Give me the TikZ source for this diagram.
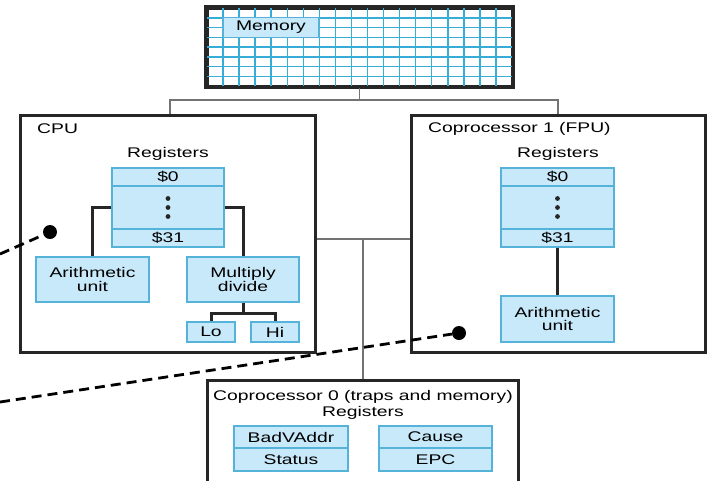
\documentclass[tikz,border=0pt]{standalone}
\usepackage{fontspec}
\setmainfont{Liberation Sans}[FakeStretch=1.38]
\begin{document}
\begin{tikzpicture}[x=1pt,y=-1pt,
  font=\fontsize{14}{13.5}\selectfont,
  outerbox/.style={draw=black!85,line width=3pt,inner sep=0pt},
  bluebox/.style={draw=boxedge,fill=boxfill,line width=1.2pt,inner sep=0pt,align=center},
  conn/.style={draw=black!85,line width=3pt},
  bus/.style={draw=black!55,line width=1.6pt},
  gridline/.style={draw=gridcol,line width=1.5pt},
  dashline/.style={draw=black,line width=2.8pt,dash pattern=on 10pt off 6pt},
  dotmark/.style={circle,fill=black,inner sep=0pt,minimum size=14pt},
  lbl/.style={inner sep=0pt}
]
\definecolor{boxfill}{RGB}{200,233,249}
\definecolor{boxedge}{RGB}{85,178,216}
\definecolor{gridcol}{RGB}{55,172,212}
\useasboundingbox (0,0) rectangle (707,480);
\fill[white] (0,0) rectangle (707,480);

% big boxes
\node[outerbox,minimum width=305pt,minimum height=78pt] (mem) at (359.5,47) {};
\node[outerbox,minimum width=295pt,minimum height=237pt] (cpu) at (167.5,233.5) {};
\node[outerbox,minimum width=294pt,minimum height=237pt] (fpu) at (558,233.5) {};
\node[outerbox,minimum width=311pt,minimum height=120pt] (cp0) at (362.5,440) {};

% memory grid
\foreach \i in {1,...,18} \draw[gridline] (207+\i*16.05,8) -- (207+\i*16.05,86);
\foreach \j in {1,...,7} \draw[gridline] (207,8+\j*9.75) -- (512,8+\j*9.75);
\node[bluebox,minimum width=96pt,minimum height=19.5pt] (memlbl) at (271,27.5) {Memory};
\draw[draw=black!85,line width=3pt] (mem.north west) rectangle (mem.south east);

% CPU
\node[lbl,anchor=west] (cputitle) at (37,129) {CPU};
\node[lbl] (cpuregt) at (168,154) {Registers};
\node[bluebox,minimum width=112pt,minimum height=18pt] (cpu0) at (168,177) {\$0};
\node[bluebox,minimum width=112pt,minimum height=43pt] (cpudots) at (168,207.5) {};
\node[bluebox,minimum width=112pt,minimum height=18pt] (cpu31) at (168,238) {\$31};
\foreach \k in {-9,0,9} \fill[black!85] ([yshift=\k]cpudots.center) circle (2.4pt);
\node[bluebox,minimum width=113pt,minimum height=45pt] (cpuarith) at (92.5,279.5) {Arithmetic\\unit};
\node[bluebox,minimum width=112pt,minimum height=45pt] (mul) at (243,279.5) {Multiply\\divide};
\node[bluebox,minimum width=48pt,minimum height=20pt] (lo) at (211,332) {Lo};
\node[bluebox,minimum width=48pt,minimum height=20pt] (hi) at (275,332) {Hi};
\coordinate (lohi) at (243,313);
\draw[conn] (cpudots.west) -| (cpuarith.north);
\draw[conn] (cpudots.east) -| (mul.north);
\draw[conn] (mul.south) -- (lohi);
\draw[conn] (lo.north) |- (lohi) -| (hi.north);

% FPU
\node[lbl,anchor=west] (fputitle) at (428,129) {Coprocessor 1 (FPU)};
\node[lbl] (fpuregt) at (558,154) {Registers};
\node[bluebox,minimum width=113pt,minimum height=18pt] (fpu0) at (557.5,177) {\$0};
\node[bluebox,minimum width=113pt,minimum height=43pt] (fpudots) at (557.5,207.5) {};
\node[bluebox,minimum width=113pt,minimum height=18pt] (fpu31) at (557.5,238) {\$31};
\foreach \k in {-9,0,9} \fill[black!85] ([yshift=\k]fpudots.center) circle (2.4pt);
\node[bluebox,minimum width=113pt,minimum height=46pt] (fpuarith) at (557.5,319) {Arithmetic\\unit};
\draw[conn] (fpu31.south) -- (fpuarith.north);

% Coprocessor 0
\node[lbl] (cp0title) at (363,397) {Coprocessor 0 (traps and memory)};
\node[lbl] (cp0regt) at (363,413) {Registers};
\node[bluebox,minimum width=114pt,minimum height=22pt] (bad) at (291,437) {BadVAddr};
\node[bluebox,minimum width=114pt,minimum height=23pt] (status) at (291,459.5) {Status};
\node[bluebox,minimum width=113pt,minimum height=22pt] (cause) at (435.5,437) {Cause};
\node[bluebox,minimum width=113pt,minimum height=23pt] (epc) at (435.5,459.5) {EPC};

% buses
\coordinate (busL) at (170,100);
\coordinate (busR) at (558,100);
\coordinate (midbus) at (363,239);
\draw[bus] (mem.south) -- (mem.south |- busL);
\draw[bus] (busL |- cpu.north) -- (busL) -- (busR) -- (busR |- fpu.north);
\draw[bus] (cpu.east |- midbus) -- (fpu.west |- midbus);
\draw[bus] (midbus) -- (midbus |- cp0.north);

% dashed pointers
\coordinate (d1s) at (0,254);
\coordinate (d2s) at (0,402);
\node[dotmark] (d1) at (50,232) {};
\node[dotmark] (d2) at (459,333) {};
\draw[dashline] (d1s) -- (d1);
\draw[dashline] (d2s) -- (d2);
\end{tikzpicture}
\end{document}
